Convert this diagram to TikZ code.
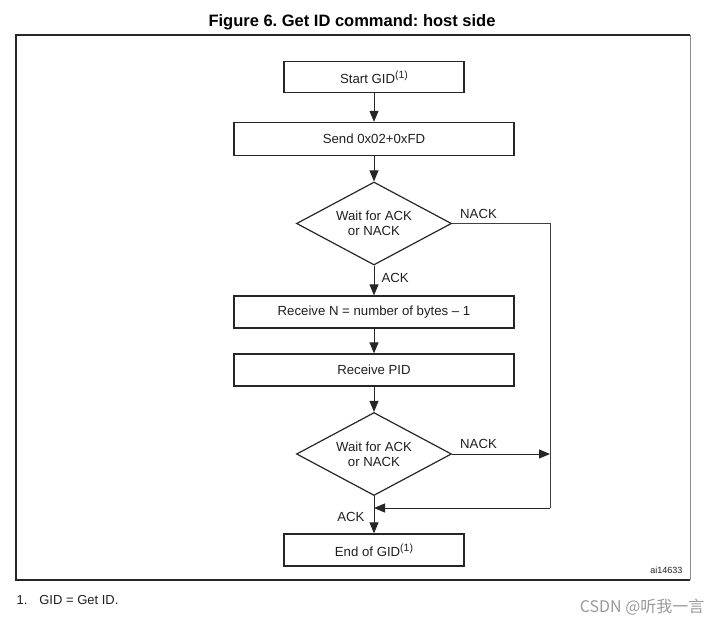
\documentclass[tikz,border=0pt]{standalone}
\usepackage{fontspec}
\setmainfont{Liberation Sans}
\newfontfamily\cjk{Noto Sans CJK SC}
\usetikzlibrary{shapes.geometric,arrows.meta}
\frenchspacing
\begin{document}
\begin{tikzpicture}[x=1pt,y=-1pt,
  every node/.style={font=\fontsize{13.2}{15}\selectfont, text=black!88},
  procbox/.style={draw=black!85, line width=1.3pt, rectangle, inner sep=0pt},
  decbox/.style={draw=black!85, line width=1.2pt, diamond, aspect=1.87, inner sep=0pt,
     minimum width=155pt, minimum height=83pt, align=center},
  flow/.style={draw=black!85, line width=1pt, -{Triangle[length=11pt,width=9pt]}},
  plain/.style={draw=black!75, line width=1pt},
  lbl/.style={inner sep=1pt}]
\useasboundingbox (0,0) rectangle (722,626);
% title
\node[font=\bfseries\fontsize{16.5}{19}\selectfont, text=black] (title) at (352,22) {Figure 6. Get ID command: host side};
% frame
\draw[black!85, line width=1.1pt] (690,35) -- (16,35) -- (16,580) -- (690,580);
\draw[black!45, line width=0.8pt] (690,35) -- (690,580);
% nodes
\node[procbox, minimum width=180pt, minimum height=31pt] (start) at (374,77) {Start GID\raisebox{5pt}{\fontsize{10.5}{12}\selectfont(1)}};
\node[procbox, minimum width=280pt, minimum height=33pt] (send) at (374,139) {Send 0x02+0xFD};
\node[decbox] (d1) at (374,223.5) {Wait for ACK\\or NACK};
\node[procbox, minimum width=280pt, minimum height=32pt] (recvn) at (374,312) {Receive N = number of bytes -- 1};
\node[procbox, minimum width=280pt, minimum height=32pt] (pid) at (374,370) {Receive PID};
\node[decbox] (d2) at (374,454) {Wait for ACK\\or NACK};
\node[procbox, minimum width=180pt, minimum height=32pt] (end) at (374,550) {End of GID\raisebox{5pt}{\fontsize{10.5}{12}\selectfont(1)}};
\coordinate (c1) at (550,223.5);
\coordinate (m) at (374,508);
\coordinate (c2) at (550,454);
% connectors
\draw[flow] (start) -- (send);
\draw[flow] (send) -- (d1.north);
\draw[flow] (d1.south) -- node[lbl, pos=0.42, right=6pt] (ack1) {ACK} (recvn);
\draw[flow] (recvn) -- (pid);
\draw[flow] (pid) -- (d2.north);
\draw[flow] (d2.south) -- node[lbl, pos=0.55, left=8pt] (ack2) {ACK} (end);
\draw[plain] (d1.east) -- (c1) -- (c1 |- m);
\draw[flow] (c1 |- m) -- (m);
\draw[flow] (d2.east) -- (c2);
\node[lbl, anchor=south west] (nack1) at (459,220) {NACK};
\node[lbl, anchor=south west] (nack2) at (459,450) {NACK};
% id and footnote
\node[font=\fontsize{9}{11}\selectfont, anchor=east] (aid) at (686,570) {ai14633};
\node[font=\fontsize{13}{15}\selectfont, anchor=west] (fn) at (13,600) {1.\hspace{12pt}GID = Get ID.};
\node[font=\cjk\fontsize{16}{18}\selectfont, text=black!40, anchor=east] (wm) at (708,607) {CSDN @听我一言};
\end{tikzpicture}
\end{document}
